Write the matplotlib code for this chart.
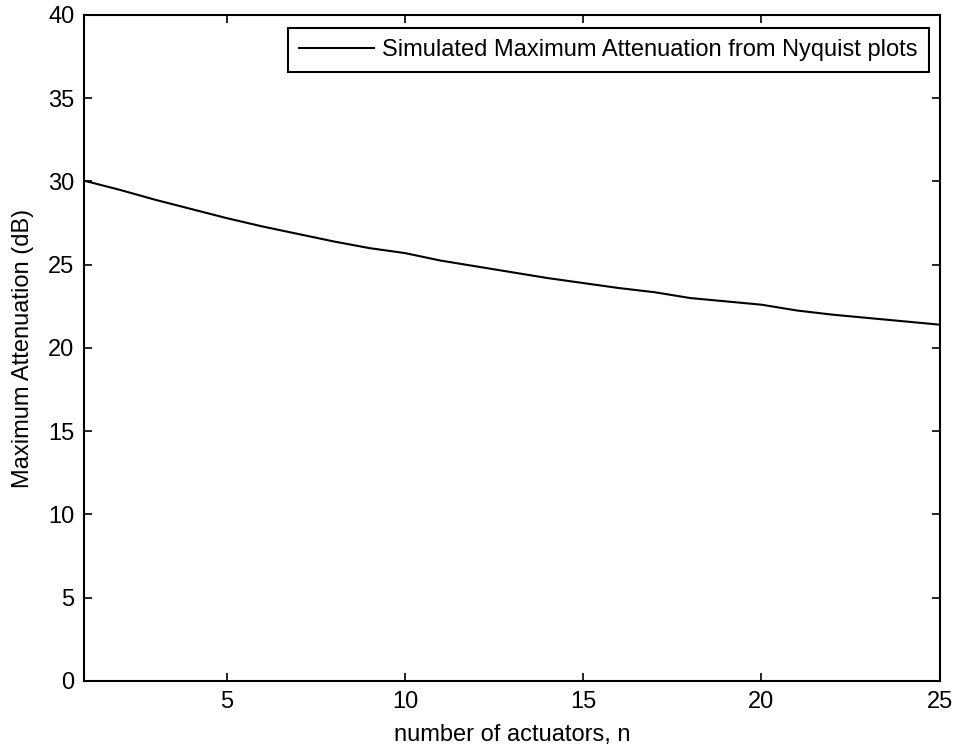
import matplotlib
matplotlib.use('Agg')
import matplotlib.pyplot as plt

# values
n_actuators = list(range(1, 26))
max_attenuation = [30.05, 29.5, 28.9, 28.35, 27.8, 27.3, 26.85, 26.4, 26.0, 25.7,
                   25.25, 24.9, 24.55, 24.2, 23.9, 23.6, 23.35, 23.0, 22.8, 22.6,
                   22.25, 22.0, 21.8, 21.6, 21.4]
x_ticks = [5, 10, 15, 20, 25]
y_ticks = [0, 5, 10, 15, 20, 25, 30, 35, 40]

plt.rcParams['font.family'] = ['Liberation Sans', 'DejaVu Sans']
plt.rcParams['font.size'] = 17

fig = plt.figure(figsize=(9.55, 7.49), dpi=100)
ax = fig.add_axes([0.088, 0.0908, 0.896, 0.8892])

ax.plot(n_actuators, max_attenuation, color='black', linewidth=1.5,
        label='Simulated Maximum Attenuation from Nyquist plots')

ax.set_xlim(1, 25)
ax.set_ylim(0, 40)
ax.set_xticks(x_ticks)
ax.set_yticks(y_ticks)
ax.tick_params(direction='in', length=6, width=1.2, top=True, right=True, pad=7)
for side in ax.spines.values():
    side.set_linewidth(1.5)

ax.set_xlabel('number of actuators, n', labelpad=8)
ax.set_ylabel('Maximum Attenuation (dB)', labelpad=10)

leg = ax.legend(loc='upper right', bbox_to_anchor=(0.987, 0.980), borderaxespad=0,
                fancybox=False, handlelength=3.2, handletextpad=0.35,
                borderpad=0.45)
leg.get_frame().set_edgecolor('black')
leg.get_frame().set_linewidth(1.5)
leg.get_frame().set_alpha(1)

fig.savefig('out.png', dpi=100)
